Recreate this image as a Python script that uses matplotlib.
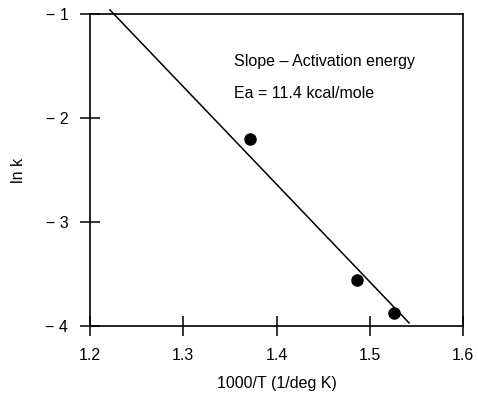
import matplotlib
matplotlib.use("Agg")
import matplotlib.pyplot as plt

plt.rcParams['font.family'] = ['Liberation Sans', 'DejaVu Sans']

# Measured points
inv_temp = [1.372, 1.486, 1.526]
ln_k = [-2.20, -3.56, -3.87]

# Fitted line end points
fit_x = [1.2215, 1.542]
fit_y = [-0.96, -3.97]

x_ticks = [1.2, 1.3, 1.4, 1.5, 1.6]
y_ticks = [-1, -2, -3, -4]
y_tick_labels = ["\u2212 1", "\u2212 2", "\u2212 3", "\u2212 4"]

fig = plt.figure(figsize=(4.78, 4.03), dpi=100)
ax = fig.add_axes([0.188, 0.191, 0.781, 0.774])

ax.plot(fit_x, fit_y, color="black", lw=1.1, clip_on=False)
ax.plot(inv_temp, ln_k, "o", color="black", markersize=8)

ax.set_xlim(1.2, 1.6)
ax.set_ylim(-4, -1)
ax.set_xticks(x_ticks)
ax.set_xticklabels([str(t) for t in x_ticks])
ax.set_yticks(y_ticks)
ax.set_yticklabels(y_tick_labels)

ax.tick_params(direction="inout", length=15, width=1.1, labelsize=11.5,
               top=False, right=False)
ax.tick_params(axis="x", pad=8)
ax.tick_params(axis="y", pad=8)
for s in ax.spines.values():
    s.set_linewidth(1.2)

ax.set_xlabel("1000/T (1/deg K)", fontsize=11.5, labelpad=10)
ax.set_ylabel("ln k", fontsize=11.5, labelpad=14)

ax.text(1.354, -1.46, "Slope \u2013 Activation energy", fontsize=11.5, va="center")
ax.text(1.354, -1.76, "Ea = 11.4 kcal/mole", fontsize=11.5, va="center")

fig.savefig("out.png", dpi=100)
